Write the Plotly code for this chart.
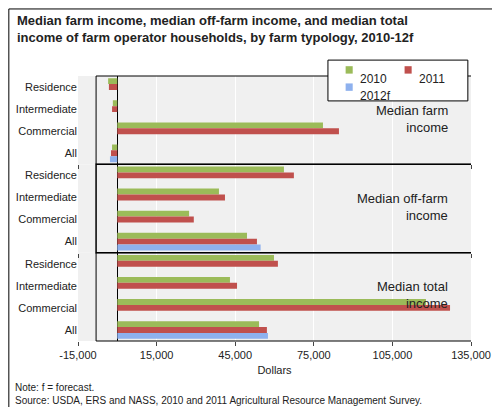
import plotly.graph_objects as go
from plotly.subplots import make_subplots

categories = ["Residence", "Intermediate", "Commercial", "All"]
panels = ["Median farm<br>income", "Median off-farm<br>income", "Median total<br>income"]
years = ["2010", "2011", "2012f"]
colors = ["#9bbb59", "#c0504d", "#8eb1ee"]

# values per panel, per year (None = not shown)
farm = {
    "2010": [-3500, -1700, 78500, -2000],
    "2011": [-3200, -2000, 84600, -2400],
    "2012f": [None, None, None, -2800],
}
off_farm = {
    "2010": [63600, 38800, 27400, 49500],
    "2011": [67400, 41100, 29200, 53300],
    "2012f": [None, None, None, 54700],
}
total = {
    "2010": [59800, 43000, 117800, 54100],
    "2011": [61300, 45700, 127000, 57100],
    "2012f": [None, None, None, 57500],
}
data = [farm, off_farm, total]

fig = make_subplots(rows=3, cols=1, shared_xaxes=True, vertical_spacing=0.0)

for r, d in enumerate(data, start=1):
    for y, c in zip(years, colors):
        fig.add_trace(go.Bar(
            y=categories, x=d[y], orientation="h", name=y,
            marker=dict(color=c, line=dict(width=0)),
            showlegend=False,
        ), row=r, col=1)
    fig.update_yaxes(categoryorder="array", categoryarray=categories,
                     autorange="reversed", row=r, col=1)
    dom = [None, "y domain", "y2 domain", "y3 domain"][r]
    fig.add_shape(type="rect", xref="x", yref=dom, x0=-8100, x1=135800, y0=0, y1=1,
                  line=dict(color="black", width=1.5 if r == 2 else 1))
    fig.add_annotation(text=panels[r - 1], xref="x", yref=dom, x=127000, y=0.72,
                       xanchor="right", align="right", showarrow=False,
                       font=dict(size=13, color="#222"))

fig.update_xaxes(range=[-15000, 135000], tickvals=[-15000, 15000, 45000, 75000, 105000, 135000],
                 ticktext=["-15,000", "15,000", "45,000", "75,000", "105,000", "135,000"],
                 showgrid=True, gridcolor="white", gridwidth=1,
                 zeroline=True, zerolinecolor="black", zerolinewidth=1,
                 tickfont=dict(size=11, color="#222"), ticks="outside", ticklen=4,
                 showline=False, automargin=False)
fig.update_xaxes(title=dict(text="Dollars", font=dict(size=11), standoff=6), row=3, col=1)
fig.update_yaxes(tickfont=dict(size=11, color="#222"), showgrid=False, ticks="",
                 zeroline=False, automargin=False)

fig.update_layout(
    width=500, height=407,
    margin=dict(l=70, r=37, t=68, b=74, autoexpand=False),
    plot_bgcolor="#f0f0f0", paper_bgcolor="white",
    font=dict(family="Liberation Sans, Arial", color="#222"),
    barmode="group", bargap=0.2, bargroupgap=0, showlegend=False,
)

# hand-built legend box
fig.add_shape(type="rect", xref="paper", yref="paper", x0=0.636, x1=0.992, y0=0.906, y1=1.060,
              line=dict(color="black", width=1), fillcolor="white", layer="above")
leg_pos = [(0.690, 1.023), (0.840, 1.023), (0.690, 0.958)]
for (lx, ly), y, c in zip(leg_pos, years, colors):
    fig.add_shape(type="rect", xref="paper", yref="paper", x0=lx - 0.009, x1=lx + 0.009,
                  y0=ly - 0.014, y1=ly + 0.014, fillcolor=c, line=dict(width=0), layer="above")
    fig.add_annotation(text=y, xref="paper", yref="paper", x=lx + 0.022, y=ly, xanchor="left",
                       showarrow=False, font=dict(size=12))

fig.add_annotation(text="<b>Median farm income, median off-farm income, and median total<br>income of farm operator households, by farm typology, 2010-12f</b>",
                   xref="paper", yref="paper", x=-0.16, y=1.245, xanchor="left", yanchor="top",
                   align="left", showarrow=False, font=dict(size=13))
fig.add_annotation(text="Note: f = forecast.<br>Source: USDA, ERS and NASS, 2010 and 2011 Agricultural Resource Management Survey.",
                   xref="paper", yref="paper", x=-0.165, y=-0.148, xanchor="left", yanchor="top",
                   align="left", showarrow=False, font=dict(size=10))
fig.add_shape(type="rect", xref="paper", yref="paper", x0=-0.176, x1=1.092, y0=-0.273, y1=1.253,
              line=dict(color="black", width=1))

fig.write_html("out.html")
